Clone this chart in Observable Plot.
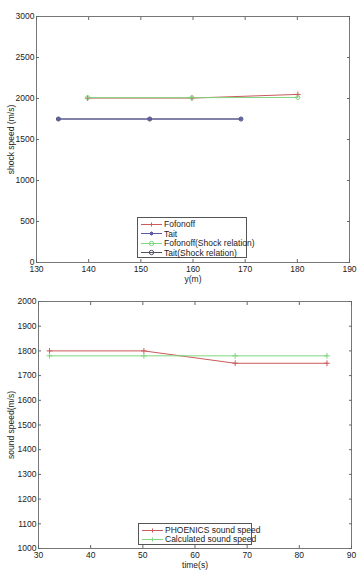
<!DOCTYPE html>
<html><head><meta charset="utf-8">
<script src="https://cdn.jsdelivr.net/npm/d3@7"></script>
<script src="https://cdn.jsdelivr.net/npm/@observablehq/plot@0.6"></script>
<style>
body{margin:0;background:#fff;font-family:"Liberation Sans",Arial,sans-serif;}
#wrap{position:relative;width:361px;height:572px;}
.panel{position:absolute;left:0;}
.legend{position:absolute;background:#fff;border:1px solid #555;font-size:8.5px;color:#222;box-sizing:border-box;}
.legend .row{position:absolute;left:3px;height:9px;display:flex;align-items:center;white-space:nowrap;}
.legend svg{margin-right:2px;}
</style></head>
<body><div id="wrap"></div>
<script>
// ---------- Data: top panel (shock speed vs y) ----------
const seriesNames = ["Fofonoff", "Tait", "Fofonoff(Shock relation)", "Tait(Shock relation)"];
const fofonoffY = [139.8, 159.8, 180.1];
const fofonoffV = [2005, 2005, 2050];
const taitY = [134.2, 151.7, 169.2];
const taitV = [1750, 1750, 1750];
const fofShockY = [139.8, 159.8, 180.1];
const fofShockV = [2010, 2010, 2013];
const taitShockY = [134.2, 151.7, 169.2];
const taitShockV = [1750, 1750, 1750];
const topXTicks = [130, 140, 150, 160, 170, 180, 190];
const topYTicks = [0, 500, 1000, 1500, 2000, 2500, 3000];

// ---------- Data: bottom panel (sound speed vs time) ----------
const bottomNames = ["PHOENICS sound speed", "Calculated sound speed"];
const timeS = [32.1, 50.2, 67.7, 85.3];
const phoenicsV = [1800, 1800, 1750, 1750];
const calculatedV = [1780, 1780, 1780, 1780];
const botXTicks = [30, 40, 50, 60, 70, 80, 90];
const botYTicks = [1000, 1100, 1200, 1300, 1400, 1500, 1600, 1700, 1800, 1900, 2000];

const colors = {red:"#cc5a5a", blue:"#5c5ca6", green:"#7ed67e", dark:"#505060"};
const fmt = d => String(d);
const zip = (xs, ys, s) => xs.map((x, i) => ({x, y: ys[i], s}));

function axesMarks(xt, yt, xlabel, ylabel, ylabOff) {
  const common = {tickSize: -3, stroke: "#666", fontSize: 8.5, labelArrow: "none"};
  return [
    Plot.frame({stroke: "#777"}),
    Plot.axisX({...common, ticks: xt, tickFormat: fmt, tickPadding: 6, anchor: "bottom", label: xlabel, labelAnchor: "center", labelOffset: 19}),
    Plot.axisX({...common, ticks: xt, tickFormat: () => "", anchor: "top", label: null}),
    Plot.axisY({...common, ticks: yt, tickFormat: fmt, tickPadding: 5, anchor: "left", label: ylabel, labelAnchor: "center", labelOffset: ylabOff}),
    Plot.axisY({...common, ticks: yt, tickFormat: () => "", anchor: "right", label: null})
  ];
}

function seriesMarks(data, color, symbol) {
  return [
    Plot.line(data, {x: "x", y: "y", stroke: color, strokeWidth: 1}),
    Plot.dot(data, {x: "x", y: "y", stroke: color, symbol, r: 2, strokeWidth: 1})
  ];
}

const topChart = Plot.plot({
  width: 361, height: 285,
  marginTop: 16, marginBottom: 23, marginLeft: 36, marginRight: 12,
  style: {fontFamily: "Liberation Sans, Arial, sans-serif", fontSize: "8.5px", color: "#222", background: "transparent"},
  x: {domain: [130, 190]},
  y: {domain: [0, 3000]},
  marks: [
    ...axesMarks(topXTicks, topYTicks, "y(m)", "shock speed (m/s)", 29),
    ...seriesMarks(zip(taitShockY, taitShockV), colors.dark, "circle"),
    ...seriesMarks(zip(taitY, taitV), colors.blue, "asterisk"),
    ...seriesMarks(zip(fofonoffY, fofonoffV), colors.red, "plus"),
    ...seriesMarks(zip(fofShockY, fofShockV), colors.green, "circle")
  ]
});
topChart.classList.add("panel"); topChart.style.top = "0px";

const bottomChart = Plot.plot({
  width: 361, height: 287,
  marginTop: 16, marginBottom: 24, marginLeft: 38, marginRight: 10,
  style: {fontFamily: "Liberation Sans, Arial, sans-serif", fontSize: "8.5px", color: "#222", background: "transparent"},
  x: {domain: [30, 90]},
  y: {domain: [1000, 2000]},
  marks: [
    ...axesMarks(botXTicks, botYTicks, "time(s)", "sound speed(m/s)", 31),
    ...seriesMarks(zip(timeS, phoenicsV), colors.red, "plus"),
    ...seriesMarks(zip(timeS, calculatedV), colors.green, "plus")
  ]
});
bottomChart.classList.add("panel"); bottomChart.style.top = "285px";

const wrap = document.getElementById("wrap");
wrap.appendChild(topChart); wrap.appendChild(bottomChart);

function sym(kind, color) {
  let s = `<svg width="21" height="9"><line x1="0" y1="4.5" x2="21" y2="4.5" stroke="${color}" stroke-width="1"/>`;
  const cx = 10.5, cy = 4.5;
  if (kind === "plus") s += `<path d="M${cx-2},${cy}h4M${cx},${cy-2}v4" stroke="${color}"/>`;
  if (kind === "asterisk") s += `<path d="M${cx-2},${cy}h4M${cx},${cy-2}v4M${cx-1.5},${cy-1.5}l3,3M${cx-1.5},${cy+1.5}l3,-3" stroke="${color}"/>`;
  if (kind === "circle") s += `<circle cx="${cx}" cy="${cy}" r="2.2" fill="none" stroke="${color}"/>`;
  return s + "</svg>";
}
function legend(items, left, topPx, w, h, rowTops) {
  const d = document.createElement("div");
  d.className = "legend";
  Object.assign(d.style, {left: left + "px", top: topPx + "px", width: w + "px", height: h + "px"});
  items.forEach((it, i) => {
    const r = document.createElement("div");
    r.className = "row"; r.style.top = rowTops[i] + "px";
    r.innerHTML = sym(it.symbol, it.color) + `<span>${it.name}</span>`;
    d.appendChild(r);
  });
  wrap.appendChild(d);
}
legend([
  {name: seriesNames[0], color: colors.red, symbol: "plus"},
  {name: seriesNames[1], color: colors.blue, symbol: "asterisk"},
  {name: seriesNames[2], color: colors.green, symbol: "circle"},
  {name: seriesNames[3], color: colors.dark, symbol: "circle"}
], 137, 217, 110, 41, [1.5, 11, 20.5, 30]);
legend([
  {name: bottomNames[0], color: colors.red, symbol: "plus"},
  {name: bottomNames[1], color: colors.green, symbol: "plus"}
], 138, 523, 114, 22, [1.5, 10.5]);
</script>
</body></html>
